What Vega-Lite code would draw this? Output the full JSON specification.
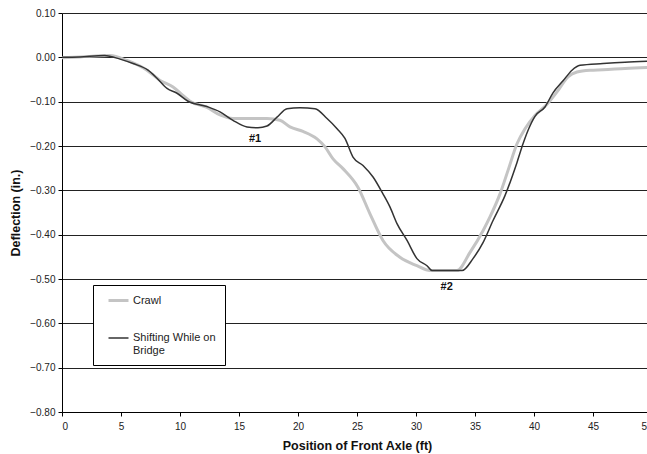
{
  "$schema": "https://vega.github.io/schema/vega-lite/v6.json",
  "autosize": "none",
  "width": 590,
  "height": 399,
  "padding": {"left": 62, "top": 13, "right": 0, "bottom": 42},
  "background": "#ffffff",
  "config": {
    "view": {"stroke": null},
    "font": "Liberation Sans",
    "axis": {"labelFont": "Liberation Sans", "titleFont": "Liberation Sans", "labelColor": "#222", "titleColor": "#111", "labelFontSize": 10, "titleFontSize": 12.5, "titleFontWeight": "bold", "domainColor": "#000", "tickColor": "#000", "tickSize": 4}
  },
  "datasets": {
    "curves": [
      {"ft": 0, "defl": -0.001, "series": "Crawl"},
      {"ft": 1.53, "defl": 0.001, "series": "Crawl"},
      {"ft": 4.07, "defl": 0.004, "series": "Crawl"},
      {"ft": 5.51, "defl": -0.007, "series": "Crawl"},
      {"ft": 7.2, "defl": -0.029, "series": "Crawl"},
      {"ft": 8.31, "defl": -0.052, "series": "Crawl"},
      {"ft": 9.41, "defl": -0.067, "series": "Crawl"},
      {"ft": 10.25, "defl": -0.086, "series": "Crawl"},
      {"ft": 10.85, "defl": -0.099, "series": "Crawl"},
      {"ft": 12.29, "defl": -0.113, "series": "Crawl"},
      {"ft": 13.39, "defl": -0.13, "series": "Crawl"},
      {"ft": 14.49, "defl": -0.138, "series": "Crawl"},
      {"ft": 17.37, "defl": -0.138, "series": "Crawl"},
      {"ft": 18.47, "defl": -0.142, "series": "Crawl"},
      {"ft": 19.32, "defl": -0.157, "series": "Crawl"},
      {"ft": 20.42, "defl": -0.167, "series": "Crawl"},
      {"ft": 21.61, "defl": -0.184, "series": "Crawl"},
      {"ft": 22.29, "defl": -0.202, "series": "Crawl"},
      {"ft": 22.97, "defl": -0.229, "series": "Crawl"},
      {"ft": 23.81, "defl": -0.251, "series": "Crawl"},
      {"ft": 25.08, "defl": -0.293, "series": "Crawl"},
      {"ft": 26.1, "defl": -0.353, "series": "Crawl"},
      {"ft": 27.2, "defl": -0.413, "series": "Crawl"},
      {"ft": 28.64, "defl": -0.451, "series": "Crawl"},
      {"ft": 30.08, "defl": -0.47, "series": "Crawl"},
      {"ft": 31.19, "defl": -0.481, "series": "Crawl"},
      {"ft": 33.47, "defl": -0.481, "series": "Crawl"},
      {"ft": 34.58, "defl": -0.44, "series": "Crawl"},
      {"ft": 35.68, "defl": -0.391, "series": "Crawl"},
      {"ft": 36.27, "defl": -0.36, "series": "Crawl"},
      {"ft": 37.12, "defl": -0.308, "series": "Crawl"},
      {"ft": 37.8, "defl": -0.255, "series": "Crawl"},
      {"ft": 38.56, "defl": -0.195, "series": "Crawl"},
      {"ft": 39.24, "defl": -0.161, "series": "Crawl"},
      {"ft": 40.08, "defl": -0.131, "series": "Crawl"},
      {"ft": 41.1, "defl": -0.106, "series": "Crawl"},
      {"ft": 41.95, "defl": -0.078, "series": "Crawl"},
      {"ft": 42.88, "defl": -0.044, "series": "Crawl"},
      {"ft": 43.64, "defl": -0.033, "series": "Crawl"},
      {"ft": 44.75, "defl": -0.029, "series": "Crawl"},
      {"ft": 45.85, "defl": -0.028, "series": "Crawl"},
      {"ft": 47.71, "defl": -0.025, "series": "Crawl"},
      {"ft": 49.58, "defl": -0.023, "series": "Crawl"},
      {"ft": 0, "defl": 0.0, "series": "Shifting While on Bridge"},
      {"ft": 1.5, "defl": 0.001, "series": "Shifting While on Bridge"},
      {"ft": 3.6, "defl": 0.004, "series": "Shifting While on Bridge"},
      {"ft": 4.92, "defl": -0.004, "series": "Shifting While on Bridge"},
      {"ft": 6.02, "defl": -0.014, "series": "Shifting While on Bridge"},
      {"ft": 7.29, "defl": -0.029, "series": "Shifting While on Bridge"},
      {"ft": 8.05, "defl": -0.047, "series": "Shifting While on Bridge"},
      {"ft": 8.9, "defl": -0.07, "series": "Shifting While on Bridge"},
      {"ft": 9.75, "defl": -0.081, "series": "Shifting While on Bridge"},
      {"ft": 10.68, "defl": -0.099, "series": "Shifting While on Bridge"},
      {"ft": 12.29, "defl": -0.111, "series": "Shifting While on Bridge"},
      {"ft": 13.39, "defl": -0.123, "series": "Shifting While on Bridge"},
      {"ft": 14.49, "defl": -0.142, "series": "Shifting While on Bridge"},
      {"ft": 15.68, "defl": -0.157, "series": "Shifting While on Bridge"},
      {"ft": 16.61, "defl": -0.159, "series": "Shifting While on Bridge"},
      {"ft": 17.37, "defl": -0.155, "series": "Shifting While on Bridge"},
      {"ft": 18.22, "defl": -0.135, "series": "Shifting While on Bridge"},
      {"ft": 19.07, "defl": -0.116, "series": "Shifting While on Bridge"},
      {"ft": 20.17, "defl": -0.114, "series": "Shifting While on Bridge"},
      {"ft": 21.44, "defl": -0.116, "series": "Shifting While on Bridge"},
      {"ft": 22.46, "defl": -0.138, "series": "Shifting While on Bridge"},
      {"ft": 23.31, "defl": -0.161, "series": "Shifting While on Bridge"},
      {"ft": 23.98, "defl": -0.183, "series": "Shifting While on Bridge"},
      {"ft": 24.66, "defl": -0.225, "series": "Shifting While on Bridge"},
      {"ft": 25.51, "defl": -0.244, "series": "Shifting While on Bridge"},
      {"ft": 26.36, "defl": -0.27, "series": "Shifting While on Bridge"},
      {"ft": 27.2, "defl": -0.308, "series": "Shifting While on Bridge"},
      {"ft": 27.8, "defl": -0.338, "series": "Shifting While on Bridge"},
      {"ft": 28.39, "defl": -0.375, "series": "Shifting While on Bridge"},
      {"ft": 29.24, "defl": -0.413, "series": "Shifting While on Bridge"},
      {"ft": 30.08, "defl": -0.454, "series": "Shifting While on Bridge"},
      {"ft": 30.93, "defl": -0.47, "series": "Shifting While on Bridge"},
      {"ft": 31.36, "defl": -0.481, "series": "Shifting While on Bridge"},
      {"ft": 33.9, "defl": -0.481, "series": "Shifting While on Bridge"},
      {"ft": 34.83, "defl": -0.454, "series": "Shifting While on Bridge"},
      {"ft": 35.68, "defl": -0.418, "series": "Shifting While on Bridge"},
      {"ft": 36.53, "defl": -0.368, "series": "Shifting While on Bridge"},
      {"ft": 37.54, "defl": -0.312, "series": "Shifting While on Bridge"},
      {"ft": 38.56, "defl": -0.237, "series": "Shifting While on Bridge"},
      {"ft": 39.07, "defl": -0.195, "series": "Shifting While on Bridge"},
      {"ft": 39.49, "defl": -0.165, "series": "Shifting While on Bridge"},
      {"ft": 40.08, "defl": -0.133, "series": "Shifting While on Bridge"},
      {"ft": 40.93, "defl": -0.112, "series": "Shifting While on Bridge"},
      {"ft": 41.61, "defl": -0.08, "series": "Shifting While on Bridge"},
      {"ft": 42.46, "defl": -0.053, "series": "Shifting While on Bridge"},
      {"ft": 43.22, "defl": -0.029, "series": "Shifting While on Bridge"},
      {"ft": 43.9, "defl": -0.018, "series": "Shifting While on Bridge"},
      {"ft": 45.85, "defl": -0.014, "series": "Shifting While on Bridge"},
      {"ft": 47.71, "defl": -0.011, "series": "Shifting While on Bridge"},
      {"ft": 49.58, "defl": -0.009, "series": "Shifting While on Bridge"}
    ],
    "notes": [
      {"ft": 16.36, "defl": -0.185, "label": "#1"},
      {"ft": 32.6, "defl": -0.517, "label": "#2"}
    ]
  },
  "layer": [
    {
      "data": {"name": "curves"},
      "mark": {"type": "line", "interpolate": "monotone"},
      "encoding": {
        "x": {"field": "ft", "type": "quantitative", "scale": {"domain": [0, 50], "nice": false},
              "axis": {"title": "Position of Front Axle (ft)", "values": [0,5,10,15,20,25,30,35,40,45,50], "grid": false, "labelPadding": 5, "titlePadding": 8}},
        "y": {"field": "defl", "type": "quantitative", "scale": {"domain": [-0.8, 0.1], "nice": false, "zero": false},
              "axis": {"title": "Deflection (in.)", "format": ".2f", "values": [0.1,0,-0.1,-0.2,-0.3,-0.4,-0.5,-0.6,-0.7,-0.8], "grid": true, "gridColor": "#222", "gridOpacity": 1, "gridWidth": 1, "labelPadding": 3, "titlePadding": 7}},
        "color": {"field": "series", "type": "nominal",
                  "scale": {"domain": ["Crawl", "Shifting While on Bridge"], "range": ["#c4c4c4", "#333333"]},
                  "legend": {"title": null, "orient": "none", "legendX": 31, "legendY": 272,
                             "fillColor": "#ffffff", "strokeColor": "#000000", "padding": 9,
                             "symbolType": "M0,0H4", "symbolSize": 100, "symbolStrokeWidth": 2, "symbolFillColor": "transparent",
                             "labelFont": "Liberation Sans", "labelFontSize": 11, "labelColor": "#222",
                             "rowPadding": 25, "labelOffset": 18, "labelLimit": 200,
                             "labelExpr": "datum.label == 'Shifting While on Bridge' ? ['Shifting While on  ', 'Bridge'] : datum.label"}},
        "strokeWidth": {"field": "series", "type": "nominal", "scale": {"domain": ["Crawl", "Shifting While on Bridge"], "range": [3, 1.5]}, "legend": null}
      }
    },
    {
      "data": {"name": "notes"},
      "mark": {"type": "text", "font": "Liberation Sans", "fontSize": 11, "fontWeight": "bold", "color": "#111"},
      "encoding": {
        "x": {"field": "ft", "type": "quantitative"},
        "y": {"field": "defl", "type": "quantitative"},
        "text": {"field": "label"}
      }
    }
  ]
}
